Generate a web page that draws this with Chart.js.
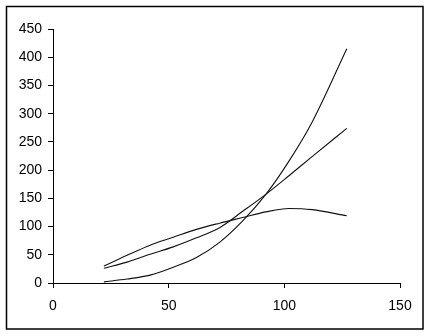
<!DOCTYPE html>
<html>
<head>
<meta charset="utf-8">
<script src="https://cdn.jsdelivr.net/npm/chart.js@4/dist/chart.umd.min.js"></script>
<style>
  html, body { margin: 0; padding: 0; background: #fff; }
  #wrap { width: 430px; height: 335px; }
</style>
</head>
<body>
<div id="wrap"><canvas id="myChart" width="430" height="335"></canvas></div>
<script>
// values
var xValues = [22, 32, 42, 52, 62, 72, 82, 92, 102, 112, 127];
var seriesA = [2, 7, 14, 28, 45, 72, 110, 157, 216, 285, 415];
var seriesB = [26, 37, 51, 64, 80, 98, 127, 157, 190, 224, 274];
var seriesC = [30, 49, 67, 81, 95, 106, 116, 126, 132, 130, 119];
var xTicks = [0, 50, 100, 150];
var yTicks = [0, 50, 100, 150, 200, 250, 300, 350, 400, 450];

function toPoints(ys) {
	return ys.map(function(y, i){ return {x: xValues[i], y: y}; });
}

// frame round the whole picture
var framePlugin = {
	id: 'frame',
	afterDraw: function(chart) {
		var c = chart.ctx;
		c.save();
		c.strokeStyle = '#000';
		c.lineWidth = 1.5;
		c.strokeRect(6.5, 6.5, 416.5, 322.5);
		c.restore();
	}
};

var lineStyle = {
	borderColor: '#111',
	borderWidth: 1.1,
	pointRadius: 0,
	fill: false,
	cubicInterpolationMode: 'monotone'
};

var ctx = document.getElementById('myChart').getContext('2d');
new Chart(ctx, {
	type: 'line',
	data: {
		datasets: [
			Object.assign({label: 'A', data: toPoints(seriesA)}, lineStyle),
			Object.assign({label: 'B', data: toPoints(seriesB)}, lineStyle),
			Object.assign({label: 'C', data: toPoints(seriesC)}, lineStyle)
		]
	},
	options: {
		responsive: false,
		animation: false,
		layout: { padding: { left: 0, right: 30, top: 29, bottom: 0 } },
		plugins: { legend: { display: false }, tooltip: { enabled: false } },
		scales: {
			x: {
				type: 'linear',
				min: 0, max: 150,
				afterBuildTicks: function(s){ s.ticks = xTicks.map(function(v){ return {value: v}; }); },
				afterFit: function(s){ s.height = 52; },
				grid: { drawOnChartArea: false, tickLength: 5, color: '#000', lineWidth: 1 },
				border: { display: true, color: '#000', width: 1 },
				ticks: { color: '#000', padding: 10, maxRotation: 0, font: { family: 'Liberation Sans, Arial, sans-serif', size: 14 } }
			},
			y: {
				min: 0, max: 450,
				afterBuildTicks: function(s){ s.ticks = yTicks.map(function(v){ return {value: v}; }); },
				afterFit: function(s){ s.width = 53; },
				grid: { drawOnChartArea: false, tickLength: 5, color: '#000', lineWidth: 1 },
				border: { display: true, color: '#000', width: 1 },
				ticks: { color: '#000', padding: 6, font: { family: 'Liberation Sans, Arial, sans-serif', size: 14 } }
			}
		}
	},
	plugins: [framePlugin]
});
</script>
</body>
</html>
